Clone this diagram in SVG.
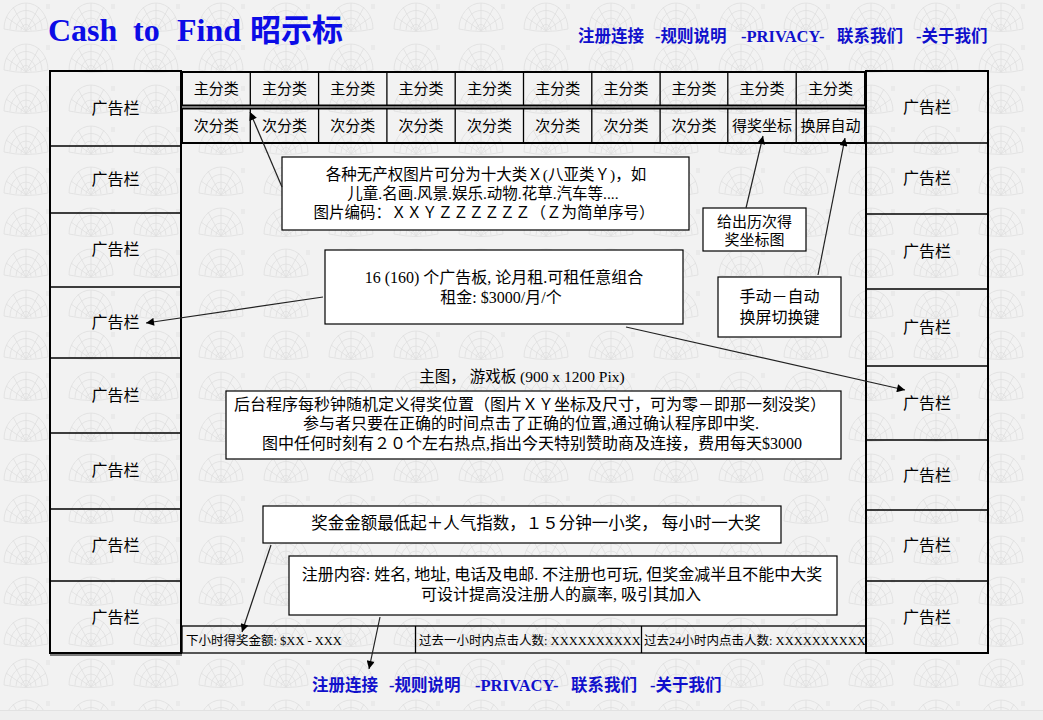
<svg xmlns="http://www.w3.org/2000/svg" width="1043" height="720" viewBox="0 0 1043 720">
<defs>
<pattern id="bgp" patternUnits="userSpaceOnUse" x="-7" y="0" width="65" height="41">
<g fill="none" stroke="#dedede" stroke-width="0.8">
<path d="M11,29 A22,26 0 0 1 55,29 Q33,34 11,29 Z"/>
<path d="M17,29.5 A16,19 0 0 1 49,29.5"/>
<path d="M23,30 A10,12 0 0 1 43,30"/>
<path d="M28,30.5 A5,6 0 0 1 38,30.5"/>
<path d="M33,31 L33,3 M33,31 L20,7 M33,31 L46,7 M33,31 L13,17 M33,31 L53,17"/>
<path d="M54,4 L54,9 M56,4 L56,9"/>
</g>
</pattern>
<marker id="ah" viewBox="0 0 10 10" refX="10" refY="5" markerWidth="10" markerHeight="8" markerUnits="userSpaceOnUse" orient="auto">
<path d="M0,0 L10,5 L0,10 Z" fill="#000"/>
</marker>
</defs>
<style>
.t{font-family:"Liberation Serif","Noto Sans CJK SC",serif;fill:#000}
.c{text-anchor:middle}
.cat{font-family:"Noto Sans CJK SC",sans-serif;font-size:15px;text-anchor:middle;fill:#000}
.ad{font-family:"Noto Sans CJK SC",sans-serif;font-size:16px;text-anchor:middle;fill:#000}
.lnk{font-family:"Liberation Serif","Noto Sans CJK SC",serif;font-weight:bold;fill:#1010cc}
.box{fill:#fff;stroke:#000;stroke-width:1.2}
.frm{fill:none;stroke:#000;stroke-width:2}
.div{stroke:#000;stroke-width:1.3}
.con{stroke:#222;stroke-width:1.2;fill:none;marker-end:url(#ah)}
</style>
<rect x="0" y="0" width="1043" height="720" fill="#f2f2f2"/>
<rect x="0" y="0" width="1043" height="710" fill="url(#bgp)"/>
<rect x="0" y="710" width="1043" height="10" fill="#efefef"/>
<line x1="0" y1="710.5" x2="1043" y2="710.5" stroke="#e2e2e2"/>

<g id="title">
<text class="t" font-weight="bold" font-size="32" style="fill:#0c0ce6"><tspan x="48" y="41">Cash</tspan><tspan x="133" y="41">to</tspan><tspan x="177" y="41">Find</tspan></text>
<text x="250" y="41" font-family="Noto Sans CJK SC,sans-serif" font-weight="bold" font-size="31" fill="#0c0ce6">昭示标</text>
</g>

<g id="top-links" class="lnk" font-size="16.5">
<text x="578" y="42">注册连接</text>
<text x="655" y="42">-规则说明</text>
<text x="741" y="42" font-size="16.5">-PRIVACY-</text>
<text x="837" y="42">联系我们</text>
<text x="916" y="42">-关于我们</text>
</g>

<g id="left-ads">
<rect class="frm" x="50" y="71" width="131" height="582"/>
<line x1="50" y1="655" x2="182" y2="655" stroke="#000" stroke-width="1"/>
<g class="div">
<line x1="50" y1="146" x2="181" y2="146"/>
<line x1="50" y1="213" x2="181" y2="213"/>
<line x1="50" y1="287" x2="181" y2="287"/>
<line x1="50" y1="358" x2="181" y2="358"/>
<line x1="50" y1="433" x2="181" y2="433"/>
<line x1="50" y1="509" x2="181" y2="509"/>
<line x1="50" y1="581" x2="181" y2="581"/>
</g>
<text class="ad" x="115.5" y="114">广告栏</text>
<text class="ad" x="115.5" y="185">广告栏</text>
<text class="ad" x="115.5" y="255">广告栏</text>
<text class="ad" x="115.5" y="328">广告栏</text>
<text class="ad" x="115.5" y="401">广告栏</text>
<text class="ad" x="115.5" y="476">广告栏</text>
<text class="ad" x="115.5" y="551">广告栏</text>
<text class="ad" x="115.5" y="623">广告栏</text>
</g>

<g id="right-ads">
<rect class="frm" x="866" y="71" width="122" height="582"/>
<g class="div">
<line x1="866" y1="143" x2="988" y2="143"/>
<line x1="866" y1="214" x2="988" y2="214"/>
<line x1="866" y1="289" x2="988" y2="289"/>
<line x1="866" y1="366" x2="988" y2="366"/>
<line x1="866" y1="440" x2="988" y2="440"/>
<line x1="866" y1="510" x2="988" y2="510"/>
<line x1="866" y1="581" x2="988" y2="581"/>
</g>
<text class="ad" x="927" y="113">广告栏</text>
<text class="ad" x="927" y="184">广告栏</text>
<text class="ad" x="927" y="257">广告栏</text>
<text class="ad" x="927" y="333">广告栏</text>
<text class="ad" x="927" y="409">广告栏</text>
<text class="ad" x="927" y="481">广告栏</text>
<text class="ad" x="927" y="551">广告栏</text>
<text class="ad" x="927" y="623">广告栏</text>
</g>

<g id="main-categories">
<rect class="frm" x="182" y="72" width="683" height="33.5"/>
<g class="div">
<line x1="250.3" y1="72" x2="250.3" y2="105.5"/>
<line x1="318.6" y1="72" x2="318.6" y2="105.5"/>
<line x1="386.9" y1="72" x2="386.9" y2="105.5"/>
<line x1="455.2" y1="72" x2="455.2" y2="105.5"/>
<line x1="523.5" y1="72" x2="523.5" y2="105.5"/>
<line x1="591.8" y1="72" x2="591.8" y2="105.5"/>
<line x1="660.1" y1="72" x2="660.1" y2="105.5"/>
<line x1="727.8" y1="72" x2="727.8" y2="105.5"/>
<line x1="796.2" y1="72" x2="796.2" y2="105.5"/>
</g>
<text class="cat" x="216.2" y="94">主分类</text>
<text class="cat" x="284.5" y="94">主分类</text>
<text class="cat" x="352.8" y="94">主分类</text>
<text class="cat" x="421.1" y="94">主分类</text>
<text class="cat" x="489.4" y="94">主分类</text>
<text class="cat" x="557.7" y="94">主分类</text>
<text class="cat" x="626" y="94">主分类</text>
<text class="cat" x="694" y="94">主分类</text>
<text class="cat" x="762" y="94">主分类</text>
<text class="cat" x="830.6" y="94">主分类</text>
</g>

<g id="sub-categories">
<rect class="frm" x="182" y="108.5" width="683" height="34.5"/>
<g class="div">
<line x1="250.3" y1="108.5" x2="250.3" y2="143"/>
<line x1="318.6" y1="108.5" x2="318.6" y2="143"/>
<line x1="386.9" y1="108.5" x2="386.9" y2="143"/>
<line x1="455.2" y1="108.5" x2="455.2" y2="143"/>
<line x1="523.5" y1="108.5" x2="523.5" y2="143"/>
<line x1="591.8" y1="108.5" x2="591.8" y2="143"/>
<line x1="660.1" y1="108.5" x2="660.1" y2="143"/>
<line x1="727.8" y1="108.5" x2="727.8" y2="143"/>
<line x1="796.2" y1="108.5" x2="796.2" y2="143"/>
</g>
<text class="cat" x="216.2" y="131">次分类</text>
<text class="cat" x="284.5" y="131">次分类</text>
<text class="cat" x="352.8" y="131">次分类</text>
<text class="cat" x="421.1" y="131">次分类</text>
<text class="cat" x="489.4" y="131">次分类</text>
<text class="cat" x="557.7" y="131">次分类</text>
<text class="cat" x="626" y="131">次分类</text>
<text class="cat" x="694" y="131">次分类</text>
<text class="cat" x="762" y="131">得奖坐标</text>
<text class="cat" x="830.6" y="131">换屏自动</text>
</g>

<g id="note-categories">
<rect class="box" x="282" y="157" width="407" height="73"/>
<text class="t c" font-size="15.5" x="486" y="180">各种无产权图片可分为十大类Ｘ(八亚类Ｙ)，如</text>
<text class="t c" font-size="15.5" x="483" y="199">儿童.名画.风景.娱乐.动物.花草.汽车等....</text>
<text class="t c" font-size="15.5" x="484" y="218">图片编码：ＸＸＹＺＺＺＺＺＺ（Ｚ为简单序号）</text>
</g>

<g id="note-history">
<rect class="box" x="703" y="208" width="103" height="43"/>
<text class="t c" font-size="15" x="754.5" y="227">给出历次得</text>
<text class="t c" font-size="15" x="754.5" y="245">奖坐标图</text>
</g>

<g id="note-switch">
<rect class="box" x="718" y="277" width="123" height="60"/>
<text class="t c" font-size="16" x="779.5" y="302">手动－自动</text>
<text class="t c" font-size="16" x="779.5" y="323">换屏切换键</text>
</g>

<g id="note-ads">
<rect class="box" x="325" y="250" width="358" height="74"/>
<text class="t c" font-size="16" x="504" y="283">16 (160) 个广告板, 论月租.可租任意组合</text>
<text class="t c" font-size="16" x="501" y="303">租金: $3000/月/个</text>
</g>

<g id="main-label">
<text class="t c" font-size="15.5" x="522" y="382">主图，  游戏板  (900 x 1200 Pix)</text>
</g>

<g id="note-game">
<rect class="box" x="226" y="391" width="615" height="68"/>
<text class="t c" font-size="16" x="530" y="410">后台程序每秒钟随机定义得奖位置（图片ＸＹ坐标及尺寸，可为零－即那一刻没奖）</text>
<text class="t c" font-size="16" x="531" y="429">参与者只要在正确的时间点击了正确的位置,通过确认程序即中奖.</text>
<text class="t c" font-size="16" x="532" y="449">图中任何时刻有２０个左右热点,指出今天特别赞助商及连接，费用每天$3000</text>
</g>

<g id="note-prize">
<rect class="box" x="263" y="506" width="518" height="37"/>
<text class="t c" font-size="16.5" x="536" y="529">奖金金额最低起＋人气指数，１５分钟一小奖，  每小时一大奖</text>
</g>

<g id="note-register">
<rect class="box" x="289" y="556" width="548" height="59"/>
<text class="t c" font-size="16" x="562" y="580">注册内容: 姓名, 地址, 电话及电邮. 不注册也可玩, 但奖金减半且不能中大奖</text>
<text class="t c" font-size="16" x="561" y="600">可设计提高没注册人的赢率, 吸引其加入</text>
</g>

<g id="status-bar">
<rect x="182" y="626" width="684" height="27" fill="none" stroke="#000" stroke-width="1.3"/>
<line class="div" x1="415.5" y1="626" x2="415.5" y2="653"/>
<line class="div" x1="641.5" y1="626" x2="641.5" y2="653"/>
<text class="t" font-size="12.5" x="186" y="645">下小时得奖金额: $XX - XXX</text>
<text class="t" font-size="12.5" x="419" y="645">过去一小时内点击人数: XXXXXXXXXX</text>
<text class="t" font-size="12.5" x="644" y="645">过去24小时内点击人数: XXXXXXXXXX</text>
</g>

<g id="bottom-links" class="lnk" font-size="16.5">
<text x="312" y="691">注册连接</text>
<text x="389" y="691">-规则说明</text>
<text x="475" y="691" font-size="16.5">-PRIVACY-</text>
<text x="571" y="691">联系我们</text>
<text x="650" y="691">-关于我们</text>
</g>

<g id="connectors">
<line class="con" x1="282" y1="187" x2="250" y2="112"/>
<line class="con" x1="746" y1="208" x2="763" y2="136"/>
<line class="con" x1="818" y1="275" x2="845" y2="138"/>
<line class="con" x1="323" y1="297" x2="146" y2="323"/>
<line class="con" x1="626" y1="327" x2="905" y2="390"/>
<line class="con" x1="271" y1="545" x2="242" y2="632"/>
<line class="con" x1="380" y1="617" x2="369" y2="669"/>
</g>
</svg>
